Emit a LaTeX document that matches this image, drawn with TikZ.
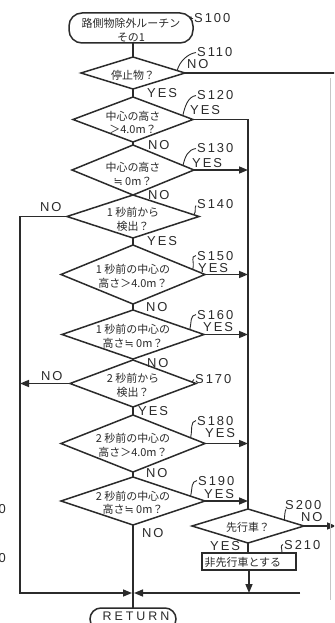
\documentclass[tikz,border=0pt]{standalone}
\usepackage{fontspec}
\setmainfont{Liberation Sans}
\newfontfamily\jp{Noto Sans CJK JP}
\newfontfamily\symf{DejaVu Sans}
\newfontfamily\lat[LetterSpace=15]{Liberation Sans}
\newfontfamily\latw[LetterSpace=24]{Liberation Sans}
\newcommand{\apx}{{\symf ≒}}
\usetikzlibrary{shapes.geometric,arrows.meta,calc}
\definecolor{ink}{HTML}{2B2B2B}
\begin{document}
\begin{tikzpicture}[x=1bp,y=-1bp,
  ln/.style={draw=ink,line width=1.5bp},
  arr/.style={ln,-{Triangle[length=9bp,width=7bp]}},
  dia/.style={diamond,draw=ink,line width=1.5bp,inner sep=0pt,outer sep=0pt},
  jt/.style={font=\jp\fontsize{11}{13.5}\selectfont,text=ink,align=center,inner sep=0pt},
  lb/.style={font=\lat\fontsize{13}{14}\selectfont,text=ink,inner sep=0pt,anchor=base west},
  lead/.style={draw=ink,line width=0.9bp},
  term/.style={draw=ink,line width=1.5bp,inner sep=0pt,outer sep=0pt},
]
\useasboundingbox (0,0) rectangle (334,623);
\clip (0,0) rectangle (334,623);
\fill[white] (0,0) rectangle (334,623);

% terminals
\node[term,rounded corners=13bp,minimum width=124bp,minimum height=30bp] (t100) at (131,28) {};
\node[jt] (tt100) at ($(t100)+(0,2)$) {路側物除外ルーチン\\その1};
\node[term,rounded corners=11bp,minimum width=86bp,minimum height=22bp] (tret) at (133,619) {};
\node[font=\latw\fontsize{12.5}{14}\selectfont,text=ink,inner sep=0pt,anchor=base] (ttret) at (136,620) {RETURN};

% decisions
\node[dia,minimum width=104bp,minimum height=32bp] (d110) at (133,73) {};
\node[jt] (t110) at ($(d110)+(0,2)$) {停止物？};
\node[dia,minimum width=120bp,minimum height=45bp] (d120) at (133,119.5) {};
\node[jt] (t120) at ($(d120)+(0,3)$) {中心の高さ\\＞4.0m？};
\node[dia,minimum width=122bp,minimum height=50bp] (d130) at (133,170) {};
\node[jt] (t130) at ($(d130)+(0,4)$) {中心の高さ\\\apx\ 0m？};
\node[dia,minimum width=132bp,minimum height=43bp] (d140) at (133,216.5) {};
\node[jt] (t140) at ($(d140)+(0,3)$) {1 秒前から\\検出？};
\node[dia,minimum width=144bp,minimum height=59bp] (d150) at (133,274.5) {};
\node[jt] (t150) at ($(d150)+(0,2)$) {1 秒前の中心の\\高さ＞4.0m？};
\node[dia,minimum width=142bp,minimum height=49bp] (d160) at (133,334.5) {};
\node[jt] (t160) at ($(d160)+(0,2)$) {1 秒前の中心の\\高さ\apx\ 0m？};
\node[dia,minimum width=126bp,minimum height=47bp] (d170) at (133,383.5) {};
\node[jt] (t170) at ($(d170)+(0,2)$) {2 秒前から\\検出？};
\node[dia,minimum width=144bp,minimum height=57bp] (d180) at (133,443.5) {};
\node[jt] (t180) at ($(d180)+(0,2)$) {2 秒前の中心の\\高さ＞4.0m？};
\node[dia,minimum width=144bp,minimum height=48bp] (d190) at (133,501) {};
\node[jt] (t190) at ($(d190)+(0,2)$) {2 秒前の中心の\\高さ\apx\ 0m？};
\node[dia,minimum width=112bp,minimum height=34bp] (d200) at (248,526) {};
\node[jt] (t200) at ($(d200)+(0,1)$) {先行車？};

% process box
\node[term,minimum width=94bp,minimum height=17bp] (b210) at (249,561.5) {};
\node[jt,anchor=west] (t210) at ($(b210.west)+(2.5,0.5)$) {非先行車とする};

% step labels
\node[lb] (s100) at (194,23) {S100};
\node[lb] (s110) at (197,57) {S110};
\node[lb] (s120) at (197,100) {S120};
\node[lb] (s130) at (197,153) {S130};
\node[lb] (s140) at (197,208) {S140};
\node[lb] (s150) at (197,260) {S150};
\node[lb] (s160) at (197,319) {S160};
\node[lb] (s170) at (195,383) {S170};
\node[lb] (s180) at (197,425) {S180};
\node[lb] (s190) at (198,485) {S190};
\node[lb] (s200) at (285,509) {S200};
\node[lb] (s210) at (284,549) {S210};

% yes / no labels
\node[lb] (n110) at (187,69) {NO};
\node[lb] (y110) at (147,98) {YES};
\node[lb] (y120) at (190,115) {YES};
\node[lb] (n120) at (148,150) {NO};
\node[lb] (y130) at (192,168) {YES};
\node[lb] (n130) at (148,199) {NO};
\node[lb] (n140) at (40,211) {NO};
\node[lb] (y140) at (147,245) {YES};
\node[lb] (y150) at (198,272) {YES};
\node[lb] (n150) at (146,311) {NO};
\node[lb] (y160) at (203,331) {YES};
\node[lb] (n160) at (147,367) {NO};
\node[lb] (n170) at (41,380) {NO};
\node[lb] (y170) at (138,415) {YES};
\node[lb] (y180) at (205,437) {YES};
\node[lb] (n180) at (146,477) {NO};
\node[lb] (y190) at (204,498) {YES};
\node[lb] (n190) at (142,537) {NO};
\node[lb] (n200) at (301,521) {NO};
\node[lb] (y200) at (210,550) {YES};

% stray clipped digits at the left edge
\node[font=\fontsize{13}{14}\selectfont,text=ink,inner sep=0pt,anchor=base east] (z1) at (6,513) {0};
\node[font=\fontsize{13}{14}\selectfont,text=ink,inner sep=0pt,anchor=base east] (z2) at (6,562) {0};

% helper coordinates
\coordinate (mx) at (248,0);
\coordinate (lx) at (20,0);
\coordinate (ex) at (336,0);
\coordinate (j) at (133,593);
\coordinate (rx) at (300,593);

% main column
\draw[ln] (d110.north |- t100.south) -- (d110.north);
\draw[ln] (d110.south) -- (d120.north);
\draw[ln] (d120.south) -- (d130.north);
\draw[ln] (d130.south) -- (d140.north);
\draw[ln] (d140.south) -- (d150.north);
\draw[ln] (d150.south) -- (d160.north);
\draw[ln] (d160.south) -- (d170.north);
\draw[ln] (d170.south) -- (d180.north);
\draw[ln] (d180.south) -- (d190.north);
\draw[ln] (d190.south) -- (tret.north);

% right column
\draw[ln] (d110.east) -- (d110.east -| ex);
\draw[ln] (d120.east) -- (d120.east -| mx) -- (d200.north);
\draw[arr] (d130.east) -- (d130.east -| mx);
\draw[arr] (d150.east) -- (d150.east -| mx);
\draw[arr] (d160.east) -- (d160.east -| mx);
\draw[arr] (d180.east) -- (d180.east -| mx);
\draw[arr] (d190.east) -- (d190.east -| mx);
\draw[ln] (d200.south) -- (d200.south |- b210.north);
\draw[arr] (b210.south) -- (b210.south |- j);
\draw[arr] (d200.east) -- (d200.east -| ex);

% left loop
\draw[arr] (d140.west) -- (d140.west -| lx) -- (lx |- j) -- ($(j)+(-1,0)$);
\draw[arr] (d170.west) -- (d170.west -| lx);
\draw[arr] (rx) -- ($(j)+(1,0)$);

% faint right edge line
\draw[gray!45,line width=0.8bp] (330,78) -- (330,600);

% leaders
\draw[lead] ($(t100.north east)+(-3,5)$) .. controls +(2,-3) and +(-3,1) .. ($(s100.west)+(-1,0)$);
\draw[lead] ($(d110.east)!0.15!(d110.north)$) .. controls +(2,-9) and +(-8,1) .. ($(s110.west)+(-1,0)$);
\draw[lead] ($(d120.east)!0.17!(d120.north)$) .. controls +(2,-9) and +(-8,1) .. ($(s120.west)+(-1,0)$);
\draw[lead] ($(d130.east)!0.18!(d130.north)$) .. controls +(2,-9) and +(-8,1) .. ($(s130.west)+(-1,0)$);
\draw[lead] ($(d140.east)!0.08!(d140.north)$) .. controls +(3,-3) and +(-2,2) .. ($(s140.west)+(-1,2)$);
\draw[lead] ($(d150.east)!0.17!(d150.north)$) .. controls +(2,-9) and +(-6,1) .. ($(s150.west)+(-1,0)$);
\draw[lead] ($(d160.east)!0.2!(d160.north)$) .. controls +(2,-9) and +(-6,1) .. ($(s160.west)+(-1,0)$);
\draw[lead] ($(d170.east)!0.06!(d170.north)$) .. controls +(2,-2) and +(-2,1) .. ($(s170.west)+(-1,1)$);
\draw[lead] ($(d180.east)!0.2!(d180.north)$) .. controls +(2,-9) and +(-6,1) .. ($(s180.west)+(-1,0)$);
\draw[lead] ($(d190.east)!0.2!(d190.north)$) .. controls +(2,-9) and +(-6,1) .. ($(s190.west)+(-1,0)$);
\draw[lead] ($(d200.east)!0.35!(d200.north)$) .. controls +(0,-3) and +(-1,1) .. ($(s200.south west)+(1,0)$);
\draw[lead] ($(b210.north east)+(-14,0)$) .. controls +(0,-5) and +(-3,1) .. ($(s210.west)+(-1,0)$);
\end{tikzpicture}
\end{document}
